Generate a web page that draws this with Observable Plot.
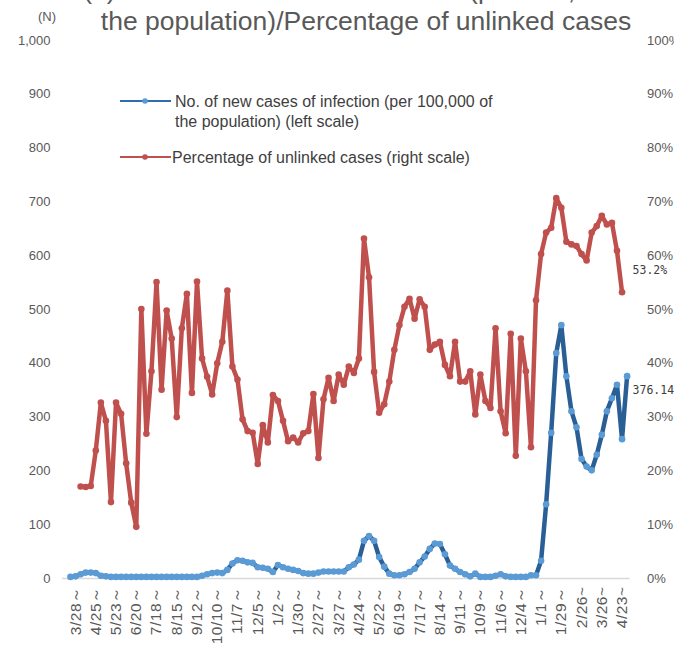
<!DOCTYPE html>
<html><head><meta charset="utf-8">
<script src="https://cdn.jsdelivr.net/npm/d3@7"></script>
<script src="https://cdn.jsdelivr.net/npm/@observablehq/plot@0.6"></script>
<style>
html,body{margin:0;padding:0;background:#fff;overflow:hidden}
#chart{width:674px;height:646px;overflow:hidden}
</style></head>
<body><div id="chart"></div>
<script>
// Week labels (every 4th week starting at week index 1)
const weekLabels = ["3/28～","4/25～","5/23～","6/20～","7/18～","8/15～","9/12～","10/10～","11/7～","12/5～","1/2～","1/30～","2/27～","3/27～","4/24～","5/22～","6/19～","7/17～","8/14～","9/11～","10/9～","11/6～","12/4～","1/1～","1/29～","2/26~","3/26~","4/23~"];
const labelStart = 1, labelStep = 4;

// New cases per 100,000 (left scale), week index 0..110
const newCases = [3,4,8,11,11,10,5,4,3,3,3,3,3,3,3,3,3,3,3,3,3,3,3,3,3,3,5,8,10,11,10,16,28,34,33,30,29,21,20,18,12,25,21,18,16,14,10,9,9,11,13,13,13,13,13,21,26,35,70,79,70,40,22,9,6,6,8,12,18,30,41,55,65,64,45,24,18,12,8,4,9,3,3,3,5,8,4,3,3,3,3,6,6,33,138,271,419,471,376,311,281,222,208,201,230,267,311,335,360,259,376.14];

// Percentage of unlinked cases (right scale), week index 2..109
const unlinkedStart = 2;
const unlinkedPct = [17.1,17.0,17.2,23.8,32.7,29.3,14.2,32.7,30.6,21.4,14.1,9.6,50.1,26.9,38.5,55.1,35.1,49.8,44.6,30.0,46.5,52.9,34.5,55.2,40.9,37.5,34.2,40.0,44.0,53.5,39.4,37.0,29.6,27.4,27.1,21.3,28.5,25.3,34.1,33.0,29.3,25.5,26.2,25.3,27.0,27.4,34.3,22.4,33.3,37.3,33.0,37.9,36.0,39.4,38.2,40.9,63.2,56.0,38.4,30.8,32.4,36.6,42.5,47.1,50.5,52.0,48.3,51.9,50.5,42.5,43.5,44.0,39.7,37.6,44.0,36.6,36.6,38.5,30.5,37.9,33.0,31.7,46.5,31.1,27.0,45.5,22.8,44.6,38.5,24.4,51.7,60.3,64.3,65.2,70.7,68.9,62.6,62.1,61.8,60.3,59.1,64.3,65.5,67.4,65.8,66.1,60.9,53.2];

const leftTicks = [0,100,200,300,400,500,600,700,800,900,1000];
const rightTicks = [0,10,20,30,40,50,60,70,80,90,100];

const blueRows = newCases.map((v, i) => ({i, v}));
const redRows = unlinkedPct.map((p, k) => ({i: k + unlinkedStart, p}));
const tickIdx = weekLabels.map((_, k) => labelStart + k * labelStep);
const labelOf = new Map(tickIdx.map((t, k) => [t, weekLabels[k]]));
const lastBlue = blueRows[blueRows.length - 1];
const lastRed = redRows[redRows.length - 1];

const gray = "#595959";
const blueLine = "#2A5F96", blueDot = "#5B9BD5", red = "#C0504D";
const font = "'Liberation Sans', Arial, sans-serif";

const svg = Plot.plot({
  width: 674, height: 646,
  marginLeft: 70, marginRight: 47.4, marginTop: 40, marginBottom: 68,
  style: {fontFamily: font, background: "#fff"},
  x: {domain: [0, 110], axis: null},
  y: {domain: [0, 1000], axis: null},
  marks: [
    Plot.ruleY([0], {stroke: "#d9d9d9", strokeWidth: 1.5, insetLeft: -8, insetRight: -3}),
    Plot.axisY({ticks: leftTicks, tickSize: 0, tickPadding: 20, tickFormat: d3.format(","), fontSize: 13, color: gray, label: null}),
    Plot.axisY({anchor: "right", ticks: rightTicks.map(p => p * 10), tickSize: 0, tickPadding: 20, tickFormat: d => (d / 10) + "%", fontSize: 13, color: gray, label: null}),
    Plot.axisX({ticks: tickIdx, tickFormat: t => labelOf.get(t), tickRotate: -90, tickSize: 0, tickPadding: 8, fontSize: 15.5, color: gray, label: null}),
    Plot.line(blueRows, {x: "i", y: "v", stroke: blueLine, strokeWidth: 4.5, strokeLinejoin: "round"}),
    Plot.dot(blueRows, {x: "i", y: "v", r: 3.3, fill: blueDot, stroke: null}),
    Plot.line(redRows, {x: "i", y: d => d.p * 10, stroke: red, strokeWidth: 4.5, strokeLinejoin: "round"}),
    Plot.dot(redRows, {x: "i", y: d => d.p * 10, r: 3.3, fill: red, stroke: null}),
    Plot.text([lastBlue], {x: "i", y: "v", text: d => String(d.v), dx: 5.5, dy: 14, textAnchor: "start", fontFamily: "'DejaVu Sans Mono', monospace", fontSize: 11.5, fill: "#404040"}),
    Plot.text([lastRed], {x: "i", y: d => d.p * 10, text: d => d.p.toFixed(1) + "%", dx: 10.5, dy: -22, textAnchor: "start", fontFamily: "'DejaVu Sans Mono', monospace", fontSize: 11.5, fill: "#404040"})
  ]
});

const s = d3.select(svg);
s.selectAll('[aria-label="x-axis tick label"] text').attr("letter-spacing", "0.5px");

// Title (first line clipped at the top of the picture)
s.append("text").attr("x", 366).attr("y", -1).attr("text-anchor", "middle")
  .attr("font-size", 26.5).attr("fill", gray).attr("font-family", font)
  .text("(4) No. of new cases of infection (per 100,000 of");
s.append("text").attr("x", 366).attr("y", 30).attr("text-anchor", "middle")
  .attr("font-size", 26.5).attr("fill", gray).attr("font-family", font)
  .text("the population)/Percentage of unlinked cases");
// Unit
s.append("text").attr("x", 47).attr("y", 21).attr("text-anchor", "middle")
  .attr("font-size", 13).attr("fill", gray).attr("font-family", font).text("(N)");

// Legend
const lg = s.append("g").attr("font-family", font).attr("font-size", 16).attr("fill", "#404040").attr("text-anchor", "start");
lg.append("line").attr("x1", 120).attr("x2", 171).attr("y1", 101).attr("y2", 101).attr("stroke", "#2E6EB0").attr("stroke-width", 2.2);
lg.append("circle").attr("cx", 145).attr("cy", 101).attr("r", 2.8).attr("fill", blueDot);
lg.append("text").attr("x", 175).attr("y", 107).attr("text-anchor", "start").text("No. of new cases of infection (per 100,000 of");
lg.append("text").attr("x", 175).attr("y", 127).attr("text-anchor", "start").text("the population) (left scale)");
lg.append("line").attr("x1", 120).attr("x2", 171).attr("y1", 157).attr("y2", 157).attr("stroke", red).attr("stroke-width", 2.2);
lg.append("circle").attr("cx", 145).attr("cy", 157).attr("r", 2.8).attr("fill", red);
lg.append("text").attr("x", 172).attr("y", 163).attr("text-anchor", "start").text("Percentage of unlinked cases (right scale)");

svg.setAttribute("overflow", "hidden");
document.getElementById("chart").appendChild(svg);
</script>
</body></html>
